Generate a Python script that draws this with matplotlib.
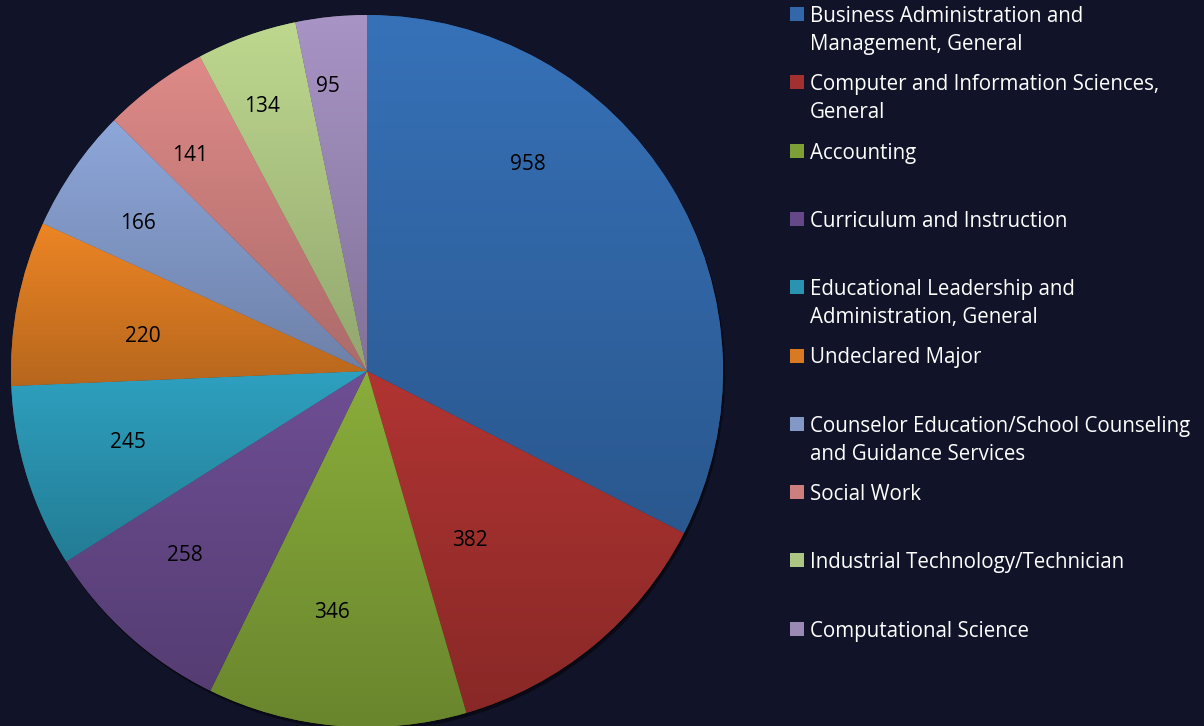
import numpy as np
import matplotlib
matplotlib.use("Agg")
import matplotlib.pyplot as plt
from matplotlib.patches import Rectangle, Circle

# data
majors = [
    "Business Administration and\nManagement, General",
    "Computer and Information Sciences,\nGeneral",
    "Accounting",
    "Curriculum and Instruction",
    "Educational Leadership and\nAdministration, General",
    "Undeclared Major",
    "Counselor Education/School Counseling\nand Guidance Services",
    "Social Work",
    "Industrial Technology/Technician",
    "Computational Science",
]
counts = [958, 382, 346, 258, 245, 220, 166, 141, 134, 95]

# style
colors = ["#3268a9", "#a2302e", "#7e9f36", "#654888", "#2a93b0",
          "#d97a22", "#8299c8", "#cc7f7d", "#aec683", "#9a88b5"]
bg = "#111428"
# label anchors (in pie radius units, relative to centre)
label_pos = [(0.452, 0.579), (0.289, -0.475), (-0.098, -0.677), (-0.511, -0.517),
             (-0.671, -0.202), (-0.629, 0.098), (-0.643, 0.413), (-0.497, 0.604),
             (-0.295, 0.744), (-0.110, 0.798)]

plt.rcParams['font.family'] = ['Open Sans', 'DejaVu Sans']

W, H = 1204, 726
cx, cy, R = 367, 371, 356
fig = plt.figure(figsize=(W / 100, H / 100), dpi=100, facecolor=bg)
ax = fig.add_axes([0, 0, 1, 1])
ax.set_facecolor(bg)

xlim = (-cx / R, (W - cx) / R)
ylim = (-(H - cy) / R, cy / R)

# soft shadow
ax.add_patch(Circle((0.006, -0.010), 1.0, color="black", alpha=0.45, lw=0, zorder=0))

wedges, _ = ax.pie(counts, colors=colors, startangle=90, counterclock=False,
                   radius=1.0, wedgeprops=dict(linewidth=0.6, edgecolor=(0, 0, 0, 0.25)))

# vertical gradient per slice: lighter at top, darker at bottom
for w, c in zip(wedges, colors):
    ext = w.get_path().get_extents()
    rgb = np.array(matplotlib.colors.to_rgb(c))
    top = np.clip(rgb * 1.09, 0, 1)
    bot = rgb * 0.84
    t = np.linspace(0, 1, 256)[:, None, None]
    grad = top * (1 - t) + bot * t
    im = ax.imshow(grad, extent=[ext.x0, ext.x1, ext.y0, ext.y1], origin="upper",
                   aspect="auto", interpolation="bilinear", zorder=1.5)
    im.set_clip_path(w)

for (dx, dy), v in zip(label_pos, counts):
    ax.text(dx, dy, str(v), ha="center", va="center", fontsize=15,
            color="black", zorder=3)

ax.set_xlim(*xlim)
ax.set_ylim(*ylim)
ax.set_aspect("auto")
ax.axis("off")

# legend drawn on the right, fixed pitch per entry like the original
top_y = 14
pitch = 68.3
for i, (lab, c) in enumerate(zip(majors, colors)):
    y = top_y + i * pitch
    fig.patches.append(Rectangle((790 / W, 1 - (y + 7) / H), 14 / W, 14 / H,
                                 transform=fig.transFigure, facecolor=c,
                                 edgecolor="none"))
    fig.text(810 / W, 1 - (y - 8) / H, lab, ha="left", va="top",
             fontsize=14.8, color="white", linespacing=1.42)

fig.savefig("out.png", dpi=100, facecolor=bg)
